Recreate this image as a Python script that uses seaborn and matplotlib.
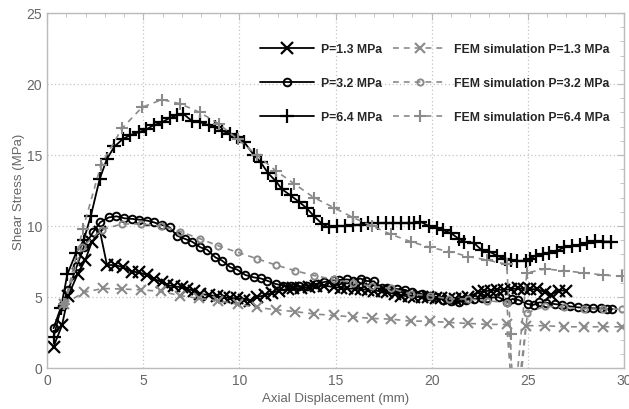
import numpy as np
import pandas as pd
import matplotlib
matplotlib.use("Agg")
import matplotlib.pyplot as plt
import seaborn as sns
from matplotlib.ticker import MultipleLocator

# experimental curves
exp13_x = [0.33, 0.77, 1.1, 1.58, 1.98, 2.33, 2.75, 3.11, 3.54, 3.94, 4.41, 4.76, 5.19, 5.54, 5.97,
           6.23, 6.58, 7.01, 7.28, 7.62, 7.97, 8.4, 8.84, 9.19, 9.53, 9.88, 10.23, 10.57, 10.9, 11.35,
           11.7, 12.05, 12.5, 12.8, 13.2, 13.6, 14.0, 14.4, 14.9, 15.3, 15.6, 16.0, 16.3, 16.7, 17.0,
           17.4, 17.7, 18.1, 18.4, 18.8, 19.1, 19.5, 19.8, 20.2, 20.5, 20.9, 21.2, 21.6, 21.9, 22.4,
           22.7, 23.1, 23.4, 23.75, 24.1, 24.5, 24.8, 25.1, 25.5, 25.9, 26.2, 26.6, 27.0]
exp13_y = [1.5, 3.0, 5.1, 6.6, 7.6, 8.9, 9.6, 7.25, 7.25, 7.09, 6.78, 6.74, 6.55, 6.27, 6.04,
           5.85, 5.75, 5.68, 5.56, 5.45, 5.21, 5.14, 5.05, 4.98, 4.93, 4.91, 4.82, 4.75, 4.98, 5.14,
           5.28, 5.45, 5.56, 5.61, 5.63, 5.68, 5.75, 5.8, 5.7, 5.65, 5.6, 5.58, 5.56, 5.5, 5.45,
           5.4, 5.33, 5.2, 5.1, 5.05, 5.0, 5.0, 5.0, 4.95, 4.9, 4.88, 4.86, 4.95, 5.0, 5.33,
           5.4, 5.45, 5.5, 5.5, 5.55, 5.6, 5.58, 5.55, 5.55, 5.33, 5.15, 5.45, 5.45]

exp32_x = [0.33, 0.75, 1.1, 1.55, 1.9, 2.38, 2.76, 3.2, 3.6, 4.02, 4.41, 4.76, 5.19, 5.54, 5.97,
           6.37, 6.75, 7.19, 7.53, 7.97, 8.32, 8.75, 9.1, 9.53, 9.88, 10.31, 10.75, 11.1, 11.44, 11.88,
           12.28, 12.66, 13.1, 13.53, 13.96, 14.4, 14.9, 15.2, 15.6, 15.9, 16.3, 16.6, 17.0, 17.4, 17.7,
           18.2, 18.6, 19.0, 19.5, 19.8, 20.2, 20.6, 21.0, 21.4, 21.8, 22.2, 22.6, 22.9, 23.5, 23.9,
           24.2, 24.5, 25.0, 25.3, 25.6, 25.95, 26.4, 26.8, 27.2, 27.6, 28.0, 28.4, 28.8, 29.1, 29.4]
exp32_y = [2.8, 4.4, 5.5, 7.2, 8.5, 9.55, 10.26, 10.6, 10.68, 10.54, 10.5, 10.45, 10.38, 10.26, 10.07,
           9.9, 9.32, 9.08, 8.9, 8.5, 8.33, 7.79, 7.56, 7.09, 6.93, 6.55, 6.38, 6.31, 6.15, 5.92,
           5.8, 5.75, 5.75, 5.8, 5.92, 6.05, 6.2, 6.2, 6.24, 6.15, 6.3, 6.13, 6.1, 5.6, 5.6,
           5.56, 5.5, 5.33, 5.2, 5.1, 5.0, 4.8, 4.7, 4.62, 4.8, 4.86, 4.9, 4.95, 4.98, 4.62,
           4.86, 4.8, 4.5, 4.45, 4.62, 4.6, 4.5, 4.45, 4.34, 4.27, 4.25, 4.2, 4.2, 4.15, 4.15]

exp64_x = [0.33, 0.71, 1.05, 1.5, 1.9, 2.27, 2.73, 3.1, 3.5, 3.92, 4.32, 4.76, 5.16, 5.54, 5.97,
           6.37, 6.75, 7.07, 7.53, 7.97, 8.4, 8.75, 9.1, 9.5, 9.85, 10.25, 10.75, 11.1, 11.5, 11.9,
           12.2, 12.66, 13.1, 13.5, 13.87, 14.3, 14.65, 15.1, 15.5, 15.9, 16.3, 16.7, 17.2, 17.6, 18.0,
           18.4, 18.8, 19.1, 19.4, 19.85, 20.3, 20.6, 21.0, 21.4, 21.7, 22.2, 22.6, 23.0, 23.4, 23.8,
           24.1, 24.45, 24.9, 25.1, 25.4, 25.8, 26.1, 26.5, 26.9, 27.3, 27.7, 28.1, 28.5, 28.9, 29.3]
exp64_y = [2.15, 4.2, 6.6, 8.1, 9.0, 10.7, 13.3, 14.7, 15.6, 16.1, 16.4, 16.6, 16.8, 17.1, 17.3,
           17.6, 17.8, 17.9, 17.4, 17.3, 17.1, 16.95, 16.7, 16.5, 16.3, 15.9, 15.0, 14.5, 13.7, 13.15,
           12.6, 12.15, 11.7, 11.25, 10.7, 10.15, 9.9, 10.0, 10.0, 10.05, 10.1, 10.2, 10.2, 10.2, 10.2,
           10.2, 10.2, 10.2, 10.3, 10.0, 9.85, 9.7, 9.5, 9.1, 8.9, 8.8, 8.3, 8.2, 7.9, 7.7,
           7.6, 7.55, 7.55, 7.7, 7.9, 8.0, 8.1, 8.25, 8.5, 8.6, 8.65, 8.8, 8.95, 8.9, 8.9]

# FEM simulations
fem13_x = [0.9, 1.9, 2.9, 3.9, 4.9, 5.9, 6.9, 7.9, 8.9, 9.9, 10.9, 11.9, 12.9, 13.9, 14.9, 15.9,
           16.9, 17.9, 18.9, 19.9, 20.9, 21.9, 22.9, 23.9, 24.3, 24.9, 25.9, 26.9, 27.9, 28.9, 29.9]
fem13_y = [4.5, 5.33, 5.6, 5.56, 5.5, 5.4, 5.1, 4.9, 4.74, 4.5, 4.27, 4.1, 3.97, 3.8, 3.7, 3.6,
           3.49, 3.44, 3.3, 3.3, 3.2, 3.14, 3.07, 3.07, -4.0, 2.98, 2.98, 2.9, 2.9, 2.9, 2.9]

fem32_x = [0.9, 1.8, 2.85, 3.89, 4.9, 5.94, 6.93, 7.95, 8.9, 9.9, 10.9, 11.9, 12.9, 13.9, 14.9, 15.9,
           16.9, 17.9, 18.9, 19.9, 20.9, 21.9, 22.9, 23.9, 24.4, 24.98, 25.9, 26.9, 27.9, 28.9, 29.9]
fem32_y = [4.5, 8.5, 9.74, 10.14, 10.14, 10.0, 9.6, 9.1, 8.6, 8.15, 7.7, 7.25, 6.85, 6.5, 6.24, 6.0,
           5.75, 5.6, 5.2, 5.1, 4.86, 4.86, 4.74, 4.6, -4.0, 3.9, 4.35, 4.27, 4.15, 4.15, 4.15]

fem64_x = [0.9, 1.86, 2.8, 3.89, 4.93, 5.97, 6.93, 7.93, 8.92, 9.91, 10.9, 11.88, 12.86, 13.87, 14.9,
           15.9, 16.9, 17.9, 18.9, 19.9, 20.9, 21.9, 22.9, 23.9, 24.1, 24.2, 24.95, 25.9, 26.9, 27.9,
           28.9, 29.9]
fem64_y = [4.5, 9.8, 14.3, 16.87, 18.35, 18.9, 18.6, 18.0, 17.2, 16.1, 15.0, 13.9, 12.96, 12.0, 11.3,
           10.6, 10.0, 9.4, 8.9, 8.5, 8.2, 7.85, 7.6, 7.3, 2.4, -4.0, 6.7, 6.97, 6.85, 6.7,
           6.55, 6.45]

sns.set_style("white")
plt.rcParams['font.family'] = ['Liberation Sans', 'DejaVu Sans']

fig, ax = plt.subplots(figsize=(6.29, 4.10), dpi=100)
fig.subplots_adjust(left=0.075, right=0.992, bottom=0.1, top=0.966)

gray = '#8a8a8a'
exp_style = dict(color='black', linewidth=1.3, markersize=8, markeredgewidth=1.6,
                 markeredgecolor='black')
fem_style = dict(color=gray, linewidth=1.2, markersize=7, markeredgewidth=1.5,
                 markeredgecolor=gray, linestyle=(0, (3.5, 3)))

series = [
    (exp13_x, exp13_y, 'x', 'P=1.3 MPa', exp_style),
    (exp32_x, exp32_y, 'o', 'P=3.2 MPa', exp_style),
    (exp64_x, exp64_y, '+', 'P=6.4 MPa', exp_style),
    (fem13_x, fem13_y, 'x', 'FEM simulation P=1.3 MPa', fem_style),
    (fem32_x, fem32_y, 'o', 'FEM simulation P=3.2 MPa', fem_style),
    (fem64_x, fem64_y, '+', 'FEM simulation P=6.4 MPa', fem_style),
]

for xs, ys, mk, lab, st in series:
    st = dict(st)
    if mk == 'o':
        st['markersize'] = st['markersize'] - 2.5
        st['markerfacecolor'] = 'none'
        st['markeredgewidth'] = 1.4
    if mk == '+':
        st['markersize'] = st['markersize'] + 2
    df = pd.DataFrame({'x': xs, 'y': ys})
    sns.lineplot(data=df, x='x', y='y', ax=ax, sort=False, estimator=None,
                 marker=mk, label=lab, **st)

ax.set_xlim(0, 30)
ax.set_ylim(0, 25)
ax.xaxis.set_major_locator(MultipleLocator(5))
ax.yaxis.set_major_locator(MultipleLocator(5))
ax.xaxis.set_minor_locator(MultipleLocator(1))
ax.yaxis.set_minor_locator(MultipleLocator(1))
ax.tick_params(which='both', direction='in', top=True, right=True, colors='#bbbbbb',
               labelcolor='#666666', labelsize=10)
ax.tick_params(which='major', length=5)
ax.tick_params(which='minor', length=3)
ax.grid(True, which='major', linestyle=(0, (1, 2)), color='#c4c4c4', linewidth=0.9)
for sp in ax.spines.values():
    sp.set_color('#bbbbbb')
    sp.set_linewidth(1.0)

ax.set_xlabel('Axial Displacement (mm)', color='#666666', fontsize=9.5, labelpad=4)
ax.set_ylabel('Shear Stress (MPa)', color='#666666', fontsize=9.5, labelpad=1)

leg = ax.legend(ncol=2, loc='upper right', bbox_to_anchor=(0.995, 0.945), frameon=False,
                prop={'weight': 'bold', 'size': 8.8}, handlelength=4.4, handletextpad=0.6,
                columnspacing=0.9, labelspacing=1.8)

fig.savefig('out.png', dpi=100)
